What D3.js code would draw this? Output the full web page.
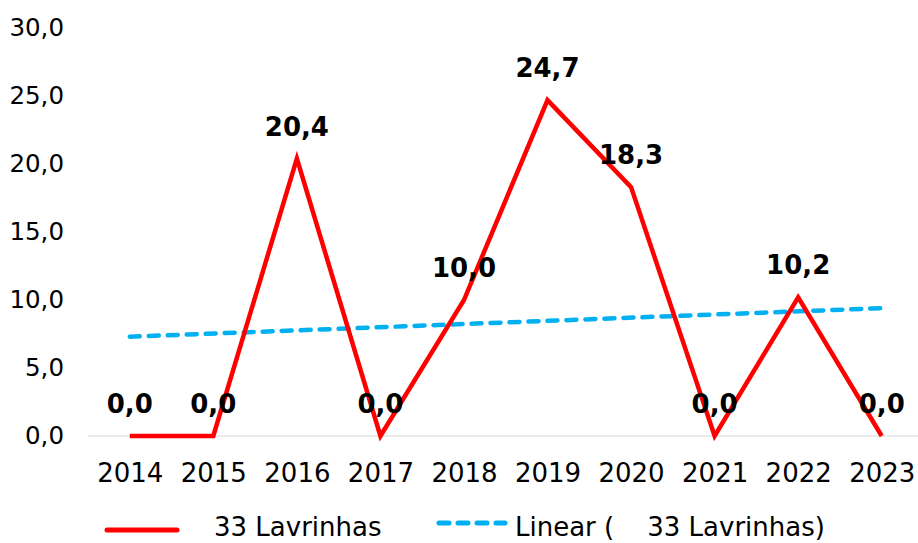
<!DOCTYPE html>
<html>
<head>
<meta charset="utf-8">
<script src="https://cdn.jsdelivr.net/npm/d3@7"></script>
<style>
  body { margin: 0; background: #fff; }
  text { font-family: "DejaVu Sans", Verdana, sans-serif; }
</style>
</head>
<body>
<svg width="918" height="543"></svg>
<script>
let years = [2014, 2015, 2016, 2017, 2018, 2019, 2020, 2021, 2022, 2023]
let values = [0, 0, 20.4, 0, 10.0, 24.7, 18.3, 0, 10.2, 0]
// trend line end points
let trendYears = [2014, 2023]
let trendValues = [7.3, 9.4]
let yTicks = [0, 5, 10, 15, 20, 25, 30]
let seriesName = "33 Lavrinhas"
let trendName = "Linear (    33 Lavrinhas)"

let fmt = function (v) { return v.toFixed(1).replace(".", ",") }

let svg = d3.select("svg")

let x = d3.scalePoint()
    .domain(years)
    .range([88, 923.5])
    .padding(0.5)

let y = d3.scaleLinear()
    .domain([0, 30])
    .range([436, 28])

// baseline
svg.append("line")
    .attr("x1", 88).attr("x2", 918)
    .attr("y1", y(0)).attr("y2", y(0))
    .attr("stroke", "#d9d9d9")
    .attr("stroke-width", 1)

let yAxis = svg.append("g")
    .attr("transform", "translate(64,0)")
    .call(d3.axisLeft(y).tickValues(yTicks).tickFormat(fmt).tickSize(0))
yAxis.select(".domain").remove()
yAxis.selectAll("text")
    .style("font-size", "24.5px")
    .attr("fill", "#000")
    .attr("x", 0)

let xAxis = svg.append("g")
    .attr("transform", "translate(0," + y(0) + ")")
    .call(d3.axisBottom(x).tickSize(0))
xAxis.select(".domain").remove()
xAxis.selectAll("text")
    .style("font-size", "26px")
    .attr("fill", "#000")
    .attr("dy", 0)
    .attr("y", 46)

let line = d3.line()
    .x(function (d, i) { return x(years[i]) })
    .y(function (d) { return y(d) })

svg.append("path")
    .datum(trendValues)
    .attr("d", d3.line()
        .x(function (d, i) { return x(trendYears[i]) })
        .y(function (d) { return y(d) }))
    .attr("fill", "none")
    .attr("stroke", "#00b0f0")
    .attr("stroke-width", 4.5)
    .attr("stroke-dasharray", "10,9")
    .attr("stroke-linecap", "round")

svg.append("path")
    .datum(values)
    .attr("d", line)
    .attr("fill", "none")
    .attr("stroke", "#ff0000")
    .attr("stroke-width", 4.5)
    .attr("stroke-linejoin", "miter")

svg.append("g")
    .selectAll("text")
    .data(values)
    .join("text")
    .attr("x", function (d, i) { return x(years[i]) })
    .attr("y", function (d) { return y(d) - 23 })
    .attr("text-anchor", "middle")
    .style("font-size", "26px")
    .style("font-weight", "bold")
    .text(fmt)

// legend
let legend = svg.append("g")
legend.append("line")
    .attr("x1", 107).attr("x2", 177)
    .attr("y1", 530).attr("y2", 530)
    .attr("stroke", "#ff0000")
    .attr("stroke-width", 5)
    .attr("stroke-linecap", "round")
legend.append("text")
    .attr("x", 214).attr("y", 536)
    .style("font-size", "26px")
    .text(seriesName)
legend.append("line")
    .attr("x1", 439).attr("x2", 505)
    .attr("y1", 523).attr("y2", 523)
    .attr("stroke", "#00b0f0")
    .attr("stroke-width", 5)
    .attr("stroke-dasharray", "10,9")
    .attr("stroke-linecap", "round")
legend.append("text")
    .attr("x", 515).attr("y", 536)
    .style("font-size", "26px")
    .style("white-space", "pre")
    .text(trendName)
</script>
</body>
</html>
